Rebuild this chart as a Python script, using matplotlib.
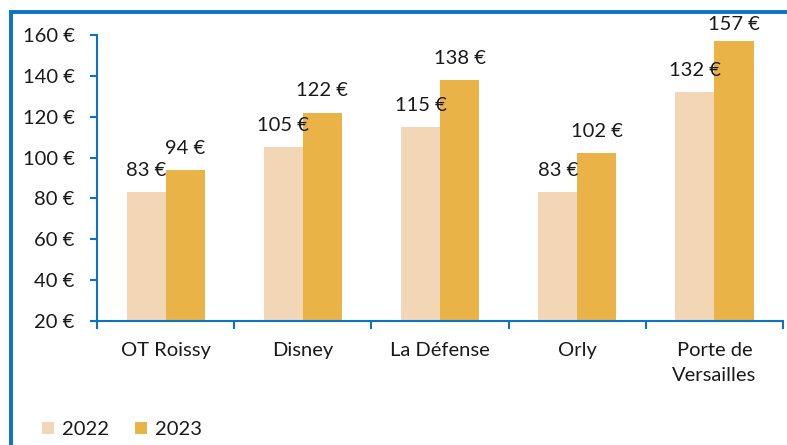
import numpy as np
import matplotlib.pyplot as plt
from matplotlib.patches import Rectangle

plt.rcParams['font.family'] = ['Lato', 'DejaVu Sans']

categories = ['OT Roissy', 'Disney', 'La Défense', 'Orly', 'Porte de\nVersailles']
val_2022 = [83, 105, 115, 83, 132]
val_2023 = [94, 122, 138, 102, 157]
y_ticks = [20, 40, 60, 80, 100, 120, 140, 160]

c_2022 = '#F2D6B6'
c_2023 = '#EAB348'
blue = '#0B72C6'
txt = '#1a1a1a'

fig = plt.figure(figsize=(7.87, 4.45), dpi=100)
ax = fig.add_axes([0.1233, 0.2787, 0.8717, 0.6426])

# cadre bleu autour du graphique
fig.patches.append(Rectangle((0.0145, -0.05), 1.2, 1.024, transform=fig.transFigure,
                             fill=False, edgecolor=blue, linewidth=2.8))

x = np.arange(len(categories))
w = 0.285
b1 = ax.bar(x - w / 2, [v - 20 for v in val_2022], w, bottom=20, color=c_2022, label='2022')
b2 = ax.bar(x + w / 2, [v - 20 for v in val_2023], w, bottom=20, color=c_2023, label='2023')

# etiquettes au-dessus des barres (la plus haute reste dans le cadre)
for xs, vals in [(x - w / 2, val_2022), (x + w / 2, val_2023)]:
    for xi, v in zip(xs, vals):
        ax.text(xi, min(v + 6.5, 161), f'{v} €', ha='center', va='bottom',
                fontsize=14.5, color=txt, clip_on=False)

ax.set_xlim(-0.5, len(categories) - 0.5)
ax.set_ylim(20, 160)
ax.set_yticks(y_ticks)
ax.set_yticklabels([f'{t} €' for t in y_ticks], fontsize=14.5, color=txt)
ax.set_xticks(x)
ax.set_xticklabels(categories, fontsize=14.5, color=txt, linespacing=1.55)
ax.tick_params(axis='x', length=0, pad=15)
ax.tick_params(axis='y', length=5, width=1.5, color=blue, pad=11)
# petits traits entre categories
ax.set_xticks(np.arange(len(categories) + 1) - 0.5, minor=True)
ax.tick_params(axis='x', which='minor', length=6, width=1.5, color=blue, direction='out')

for s in ['top', 'right']:
    ax.spines[s].set_visible(False)
for s in ['left', 'bottom']:
    ax.spines[s].set_color(blue)
    ax.spines[s].set_linewidth(1.5)

leg = fig.legend(handles=[b1, b2], loc='lower left', bbox_to_anchor=(0.03, -0.025),
                 ncol=2, frameon=False, fontsize=14.5, handlelength=0.6, handleheight=0.6,
                 handletextpad=0.4, columnspacing=1.3)
for t in leg.get_texts():
    t.set_color(txt)

fig.savefig('out.png', dpi=100)
